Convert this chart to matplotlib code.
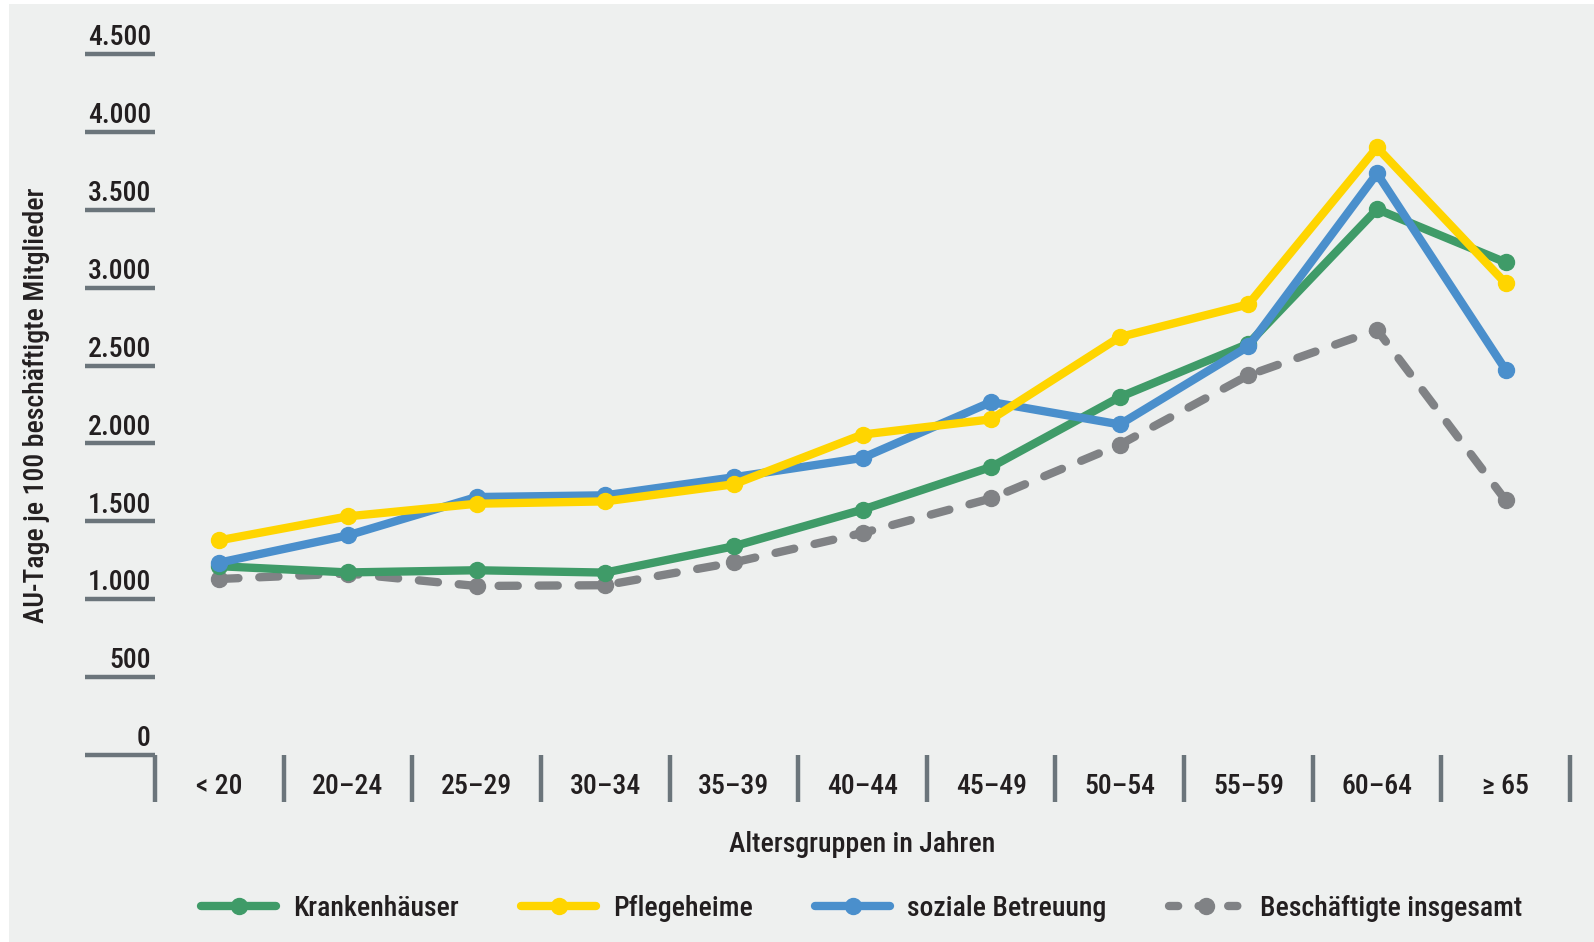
import matplotlib
matplotlib.use("Agg")
import matplotlib.pyplot as plt
from matplotlib import font_manager
from matplotlib.patches import Rectangle
from matplotlib.lines import Line2D

# ---------------- data ----------------
categories = ["< 20", "20–24", "25–29", "30–34", "35–39", "40–44",
              "45–49", "50–54", "55–59", "60–64", "≥ 65"]
krankenhaeuser = [1212, 1172, 1186, 1171, 1340, 1575, 1849, 2298, 2640, 3504, 3162]
pflegeheime    = [1378, 1532, 1613, 1628, 1738, 2057, 2155, 2683, 2893, 3900, 3028]
soziale        = [1235, 1410, 1656, 1667, 1783, 1907, 2266, 2122, 2623, 3733, 2472]
insgesamt      = [1130, 1165, 1085, 1090, 1236, 1425, 1647, 1992, 2438, 2729, 1635]
yticks = [0, 500, 1000, 1500, 2000, 2500, 3000, 3500, 4000, 4500]
ytick_labels = ["0", "500", "1.000", "1.500", "2.000", "2.500", "3.000", "3.500", "4.000", "4.500"]
series_names = ["Krankenhäuser", "Pflegeheime", "soziale Betreuung", "Beschäftigte insgesamt"]

# ---------------- style ----------------
names = {f.name for f in font_manager.fontManager.ttflist}
family = None
for cand in ["Roboto Condensed", "Liberation Sans Narrow", "Open Sans Condensed", "Noto Sans", "Lato"]:
    if cand in names:
        family = cand
        break
if family is None:
    family = "DejaVu Sans"
plt.rcParams["font.family"] = [family, "DejaVu Sans"]
plt.rcParams["font.weight"] = "medium"

GREEN = "#3f9b68"
YELLOW = "#ffd500"
BLUE = "#4a8fcc"
GRAY = "#808285"
BG = "#eef0ef"
AXC = "#6b757b"
TXT = "#231f20"
FS = 20

W, H = 1594, 942
fig = plt.figure(figsize=(W / 100, H / 100), dpi=100, facecolor="white")
fig.patches.append(Rectangle((9 / W, 0), 1 - 9 / W, 1 - 4 / H, transform=fig.transFigure,
                             facecolor=BG, edgecolor="none", zorder=-10))

left, right = 155 / W, 1570 / W
bottom, top = 1 - 755 / H, 1 - 54 / H
ax = fig.add_axes([left, bottom, right - left, top - bottom])
ax.set_zorder(2)
ax.set_facecolor("none")
for s in ax.spines.values():
    s.set_visible(False)
ax.set_xlim(-0.5, len(categories) - 0.5)
ax.set_ylim(0, 4500)
ax.set_xticks([])
ax.set_yticks([])

x = list(range(len(categories)))
lw = 6.0
ms = 11.5
ax.plot(x, insgesamt, color=GRAY, lw=lw, marker="o", ms=ms, dashes=(2.3, 2.5),
        dash_capstyle="round", zorder=2, clip_on=False)
ax.plot(x, krankenhaeuser, color=GREEN, lw=lw, marker="o", ms=ms, solid_capstyle="round",
        solid_joinstyle="round", zorder=3, clip_on=False)
ax.plot(x, soziale, color=BLUE, lw=lw, marker="o", ms=ms, solid_capstyle="round",
        solid_joinstyle="round", zorder=4, clip_on=False)
ax.plot(x, pflegeheime, color=YELLOW, lw=lw, marker="o", ms=ms, solid_capstyle="round",
        solid_joinstyle="round", zorder=5, clip_on=False)

# y ticks: horizontal bars with labels above
axw_px = (right - left) * W
axh_px = (top - bottom) * H
tick_len = 70 / axw_px
ytr = ax.get_yaxis_transform()
for v, lab in zip(yticks, ytick_labels):
    ax.plot([-tick_len, 0.0], [v, v], transform=ytr, color=AXC, lw=3.2,
            solid_capstyle="butt", clip_on=False)
    ax.annotate(lab, xy=(-4 / axw_px, v), xycoords=ytr, xytext=(0, 2),
                textcoords="offset points", ha="right", va="bottom",
                fontsize=FS, color=TXT, annotation_clip=False)

# x separators below the axis
xtr = ax.get_xaxis_transform()
sep_len = 47 / axh_px
for b in [i - 0.5 for i in range(len(categories) + 1)]:
    ax.plot([b, b], [0, -sep_len], transform=xtr, color=AXC, lw=3.2,
            solid_capstyle="butt", clip_on=False)
for xi, lab in zip(x, categories):
    ax.text(xi, -32 / axh_px, lab, transform=xtr, ha="center", va="center",
            fontsize=FS, color=TXT, clip_on=False)

ax.text(0.5, -89 / axh_px, "Altersgruppen in Jahren", transform=ax.transAxes,
        ha="center", va="center", fontsize=FS, color=TXT)
fig.text(37 / W, 1 - 405 / H, "AU-Tage je 100 beschäftigte Mitglieder", rotation=90,
         ha="center", va="center", fontsize=FS, color=TXT)

handles = [
    Line2D([], [], color=GREEN, lw=lw, marker="o", ms=ms, solid_capstyle="round"),
    Line2D([], [], color=YELLOW, lw=lw, marker="o", ms=ms, solid_capstyle="round"),
    Line2D([], [], color=BLUE, lw=lw, marker="o", ms=ms, solid_capstyle="round"),
    Line2D([], [], color=GRAY, lw=lw, marker="o", ms=ms, dashes=(1.1, 2.45), dash_capstyle="round"),
]
leg = fig.legend(handles, series_names, loc="center", bbox_to_anchor=(862 / W, 1 - 908 / H),
                 ncol=4, frameon=False, fontsize=FS, handlelength=2.7, handletextpad=0.6,
                 columnspacing=2.25, labelcolor=TXT)

fig.savefig("out.png", dpi=100, facecolor="white")
